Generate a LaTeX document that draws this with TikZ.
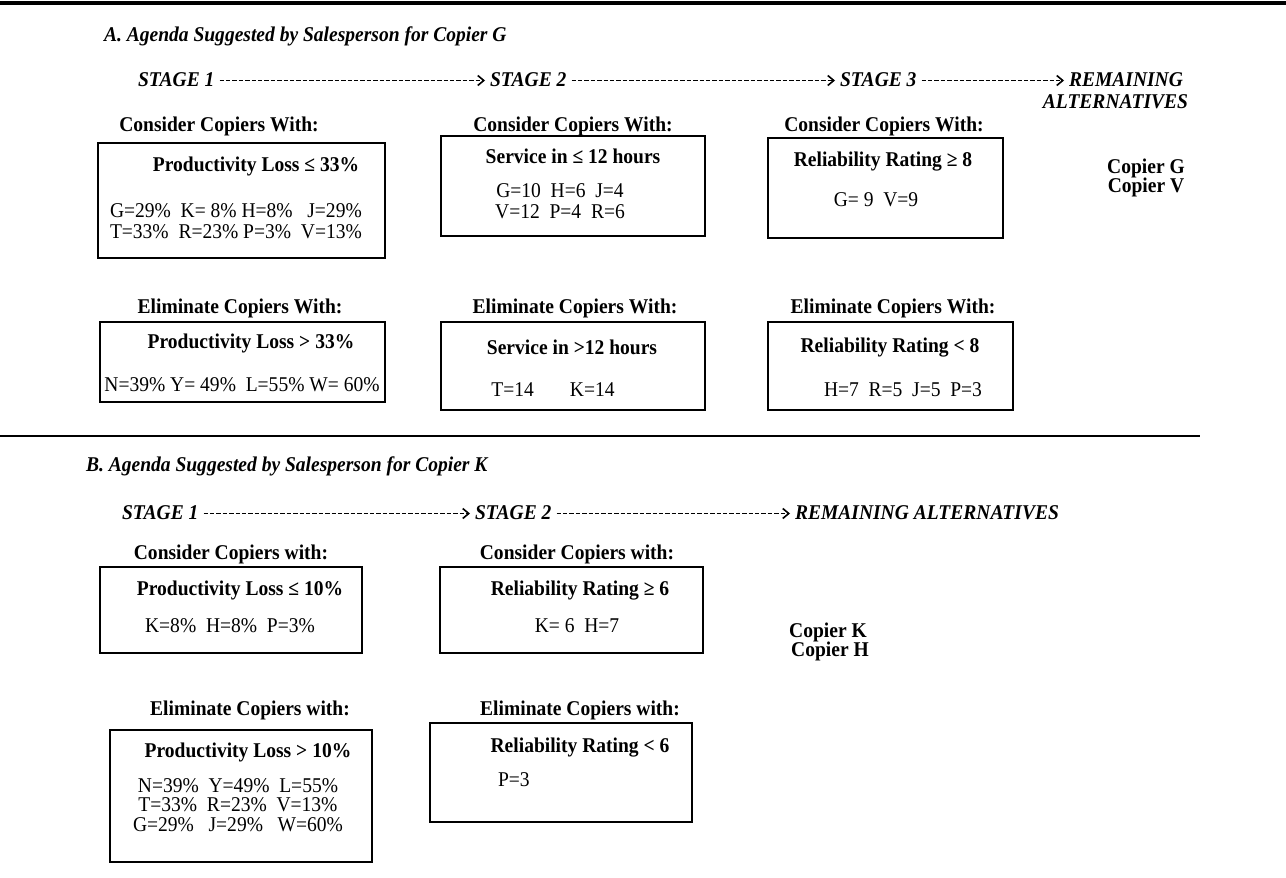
\documentclass[tikz,border=0pt]{standalone}
\usepackage{fontspec}
\setmainfont{Liberation Serif}[FakeStretch=0.93]
\usepackage{tikz}
\usetikzlibrary{arrows.meta}

\begin{document}
\begin{tikzpicture}[x=1pt,y=-1pt,
  every node/.style={inner sep=0pt,outer sep=0pt,font=\fontsize{21}{24}\selectfont},
  hdr/.style={anchor=base west,font=\fontsize{21}{24}\selectfont\bfseries\itshape},
  lbl/.style={anchor=base,font=\fontsize{21}{24}\selectfont\bfseries},
  dat/.style={anchor=base},
  frm/.style={draw,line width=1.6pt,anchor=north west},
  dsh/.style={line width=1.8pt,dash pattern=on 4.4pt off 2pt,
    -{Straight Barb[length=6pt,width=10pt,line width=1.6pt]},shorten <=5pt,shorten >=5pt}]
\useasboundingbox (0,0) rectangle (1286,878);
\draw[line width=4pt] (0,3)--(1286,3);
\draw[line width=2pt] (0,436)--(1200,436);

% part A
\node[hdr] (ha) at (104,41) {A. Agenda Suggested by Salesperson for Copier G};
\node[hdr] (sa1) at (138,86) {STAGE 1};
\node[hdr] (sa2) at (490,86) {STAGE 2};
\node[hdr] (sa3) at (840,86) {STAGE 3};
\node[hdr] (rema) at (1069,86) {REMAINING};
\node[hdr,anchor=base east] (alta) at (1188,108) {ALTERNATIVES};
\draw[dsh] ([yshift=5.5pt]sa1.base east)--([yshift=5.5pt]sa2.base west);
\draw[dsh] ([yshift=5.5pt]sa2.base east)--([yshift=5.5pt]sa3.base west);
\draw[dsh] ([yshift=5.5pt]sa3.base east)--([yshift=5.5pt]rema.base west);

\node[lbl] (ca1) at (219,131) {Consider Copiers With:};
\node[lbl] (ca2) at (573,131) {Consider Copiers With:};
\node[lbl] (ca3) at (884,131) {Consider Copiers With:};
\node[frm,minimum width=287pt,minimum height=115pt] (ba1) at (98,143) {};
\node[frm,minimum width=264pt,minimum height=100pt] (ba2) at (441,136) {};
\node[frm,minimum width=235pt,minimum height=100pt] (ba3) at (768,138) {};
\node[lbl] (ta1) at (256,171) {Productivity Loss ≤ 33\%};
\node[dat,anchor=base west] (da1) at (110,217) {G=29\%~~K=~8\% H=8\%~~~J=29\%};
\node[dat,anchor=base west] (da1b) at (110,238) {T=33\%~~R=23\% P=3\%~~V=13\%};
\node[lbl] (ta2) at (573,163) {Service in ≤ 12 hours};
\node[dat] (da2) at (560,197) {G=10~~H=6~~J=4};
\node[dat] (da2b) at (560,218) {V=12~~P=4~~R=6};
\node[lbl] (ta3) at (883,166) {Reliability Rating ≥ 8};
\node[dat] (da3) at (876,206) {G=~9~~V=9};
\node[lbl] (cg) at (1146,173) {Copier G};
\node[lbl] (cv) at (1146,192) {Copier V};

\node[lbl] (ea1) at (240,313) {Eliminate Copiers With:};
\node[lbl] (ea2) at (575,313) {Eliminate Copiers With:};
\node[lbl] (ea3) at (893,313) {Eliminate Copiers With:};
\node[frm,minimum width=285pt,minimum height=80pt] (xa1) at (100,322) {};
\node[frm,minimum width=264pt,minimum height=88pt] (xa2) at (441,322) {};
\node[frm,minimum width=245pt,minimum height=88pt] (xa3) at (768,322) {};
\node[lbl] (ua1) at (251,348) {Productivity Loss > 33\%};
\node[dat] (ga1) at (242,391) {N=39\% Y=~49\%~~L=55\% W=~60\%};
\node[lbl] (ua2) at (572,354) {Service in >12 hours};
\node[dat] (ga2) at (553,396) {T=14\hspace{36pt}K=14};
\node[lbl] (ua3) at (890,352) {Reliability Rating < 8};
\node[dat] (ga3) at (903,396) {H=7~~R=5~~J=5~~P=3};

% part B
\node[hdr] (hb) at (86,471) {B. Agenda Suggested by Salesperson for Copier K};
\node[hdr] (sb1) at (122,519) {STAGE 1};
\node[hdr] (sb2) at (475,519) {STAGE 2};
\node[hdr] (remb) at (795,519) {REMAINING ALTERNATIVES};
\draw[dsh] ([yshift=5.5pt]sb1.base east)--([yshift=5.5pt]sb2.base west);
\draw[dsh] ([yshift=5.5pt]sb2.base east)--([yshift=5.5pt]remb.base west);

\node[lbl] (cb1) at (231,559) {Consider Copiers with:};
\node[lbl] (cb2) at (577,559) {Consider Copiers with:};
\node[frm,minimum width=262pt,minimum height=86pt] (bb1) at (100,567) {};
\node[frm,minimum width=263pt,minimum height=86pt] (bb2) at (440,567) {};
\node[lbl] (tb1) at (240,595) {Productivity Loss ≤ 10\%};
\node[dat] (db1) at (230,632) {K=8\%~~H=8\%~~P=3\%};
\node[lbl] (tb2) at (580,595) {Reliability Rating ≥ 6};
\node[dat] (db2) at (577,632) {K=~6~~H=7};
\node[lbl] (ck) at (828,637) {Copier K};
\node[lbl] (ch) at (830,656) {Copier H};

\node[lbl] (eb1) at (250,715) {Eliminate Copiers with:};
\node[lbl] (eb2) at (580,715) {Eliminate Copiers with:};
\node[frm,minimum width=262pt,minimum height=132pt] (xb1) at (110,730) {};
\node[frm,minimum width=262pt,minimum height=99pt] (xb2) at (430,723) {};
\node[lbl] (ub1) at (248,757) {Productivity Loss > 10\%};
\node[dat] (gb1) at (238,792) {N=39\%~~Y=49\%~~L=55\%};
\node[dat] (gb1b) at (238,811) {T=33\%~~R=23\%~~V=13\%};
\node[dat] (gb1c) at (238,831) {G=29\%~~~J=29\%~~~W=60\%};
\node[lbl] (ub2) at (580,752) {Reliability Rating < 6};
\node[dat,anchor=base west] (gb2) at (498,786) {P=3};
\end{tikzpicture}
\end{document}
